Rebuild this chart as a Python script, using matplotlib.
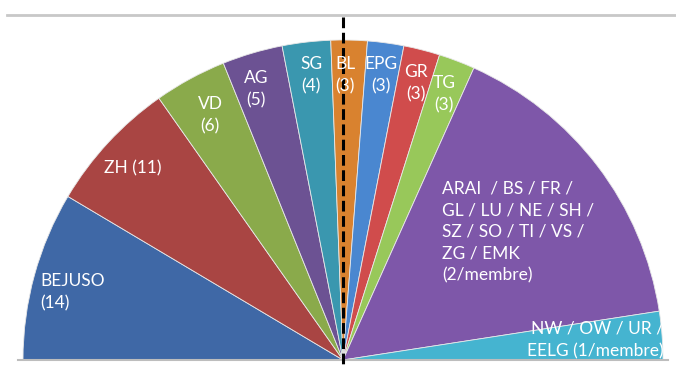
import matplotlib
matplotlib.use("Agg")
import matplotlib.pyplot as plt
import numpy as np

# ---- data ----
categories = ["BEJUSO", "ZH", "VD", "AG", "SG", "BL", "EPG", "GR", "TG",
              "ARAI / BS / FR / GL / LU / NE / SH / SZ / SO / TI / VS / ZG / EMK",
              "NW / OW / UR / EELG"]
seats = [14, 11, 6, 5, 4, 3, 3, 3, 3, 26, 4]
labels = ["BEJUSO\n(14)", "ZH (11)", "VD\n(6)", "AG\n(5)", "SG\n(4)", "BL\n(3)",
          "EPG\n(3)", "GR\n(3)", "TG\n(3)",
          "ARAI  / BS / FR /\nGL / LU / NE / SH /\nSZ / SO / TI / VS /\nZG / EMK\n(2/membre)",
          "NW / OW / UR /\nEELG (1/membre)"]

# ---- style ----
colors = ["#3F68A6", "#A94543", "#8AAA4B", "#6C5293", "#3A97AF", "#D9822F",
          "#4A87D0", "#D04C4C", "#98C85A", "#7E57A9", "#45B4D0"]
# label anchor positions in pixel coords (x, y from top), alignment
label_pos = [(40, 292, "left"), (133, 168, "center"), (210, 115, "center"),
             (256, 89, "center"), (311, 75, "center"), (345, 75, "center"),
             (381, 75, "center"), (416, 83, "center"), (444, 94, "center"),
             (442, 232, "left"), (664, 340, "right")]

W, H = 676, 365
fig = plt.figure(figsize=(W / 100, H / 100), dpi=100)
ax = fig.add_axes([0, 0, 1, 1])

cx, cy, R = 343, H - 360, 320
total = sum(seats)
vals = seats + [total]
cols = colors + ["none"]
wedges, _ = ax.pie(vals, colors=cols, startangle=180, counterclock=False,
                   center=(cx, cy), radius=R,
                   wedgeprops=dict(linewidth=0.6, edgecolor="#E8E8E8"))
wedges[-1].set_visible(False)

ax.set_xlim(0, W)
ax.set_ylim(0, H)
ax.set_aspect("auto")
ax.axis("off")

# frame lines
ax.plot([7, W], [H - 15, H - 15], color="#C8C8C8", lw=2, zorder=1)
ax.plot([18, 668], [cy, cy], color="#BDBDBD", lw=1.5, zorder=3)
ax.plot([cx, cx], [H - 17, 0], color="black", lw=2.2, ls=(0, (3.5, 1.5)), zorder=5)

for lab, (x, y, ha) in zip(labels, label_pos):
    ax.text(x, H - y, lab, ha=ha, va="center", color="white", fontsize=12.5,
            family="Lato", linespacing=1.45, zorder=6,
            multialignment=ha if ha != "center" else "center")

fig.savefig("out.png", dpi=100)
